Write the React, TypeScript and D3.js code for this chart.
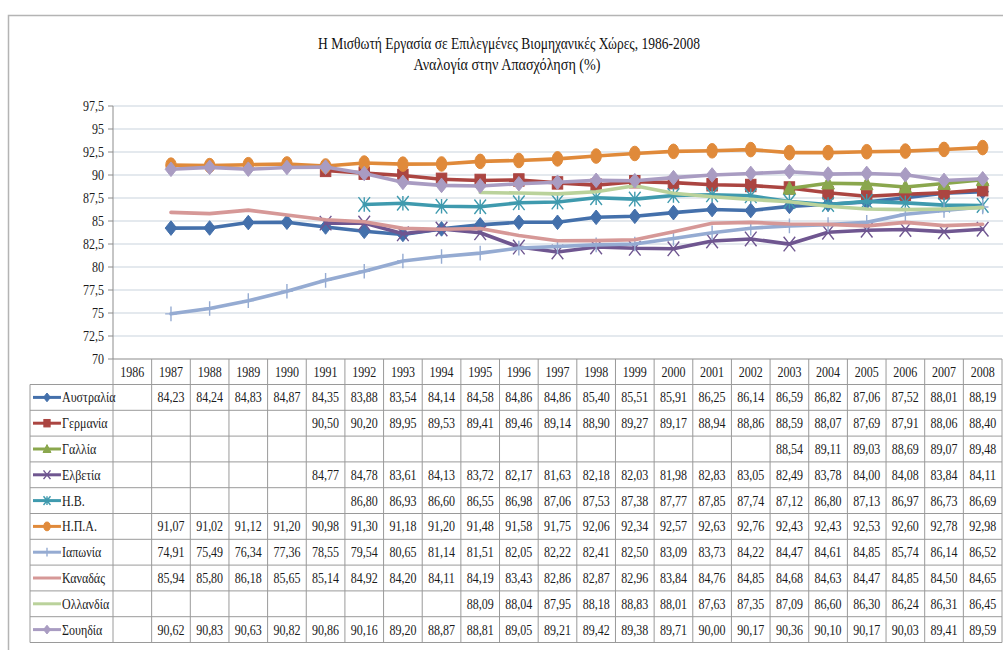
import React from "react";
import * as d3 from "d3";

const years = [1986,1987,1988,1989,1990,1991,1992,1993,1994,1995,1996,1997,1998,1999,2000,2001,2002,2003,2004,2005,2006,2007,2008];
const N = null;
const australia = [N,84.23,84.24,84.83,84.87,84.35,83.88,83.54,84.14,84.58,84.86,84.86,85.40,85.51,85.91,86.25,86.14,86.59,86.82,87.06,87.52,88.01,88.19];
const germany = [N,N,N,N,N,90.50,90.20,89.95,89.53,89.41,89.46,89.14,88.90,89.27,89.17,88.94,88.86,88.59,88.07,87.69,87.91,88.06,88.40];
const france = [N,N,N,N,N,N,N,N,N,N,N,N,N,N,N,N,N,88.54,89.11,89.03,88.69,89.07,89.48];
const switzerland = [N,N,N,N,N,84.77,84.78,83.61,84.13,83.72,82.17,81.63,82.18,82.03,81.98,82.83,83.05,82.49,83.78,84.00,84.08,83.84,84.11];
const uk = [N,N,N,N,N,N,86.80,86.93,86.60,86.55,86.98,87.06,87.53,87.38,87.77,87.85,87.74,87.12,86.80,87.13,86.97,86.73,86.69];
const usa = [N,91.07,91.02,91.12,91.20,90.98,91.30,91.18,91.20,91.48,91.58,91.75,92.06,92.34,92.57,92.63,92.76,92.43,92.43,92.53,92.60,92.78,92.98];
const japan = [N,74.91,75.49,76.34,77.36,78.55,79.54,80.65,81.14,81.51,82.05,82.22,82.41,82.50,83.09,83.73,84.22,84.47,84.61,84.85,85.74,86.14,86.52];
const canada = [N,85.94,85.80,86.18,85.65,85.14,84.92,84.20,84.11,84.19,83.43,82.86,82.87,82.96,83.84,84.76,84.85,84.68,84.63,84.47,84.85,84.50,84.65];
const netherlands = [N,N,N,N,N,N,N,N,N,88.09,88.04,87.95,88.18,88.83,88.01,87.63,87.35,87.09,86.60,86.30,86.24,86.31,86.45];
const sweden = [N,90.62,90.83,90.63,90.82,90.86,90.16,89.20,88.87,88.81,89.05,89.21,89.42,89.38,89.71,90.00,90.17,90.36,90.10,90.17,90.03,89.41,89.59];

const yTicks = [70,72.5,75,77.5,80,82.5,85,87.5,90,92.5,95,97.5];
const titleLine1 = "Η Μισθωτή Εργασία σε Επιλεγμένες Βιομηχανικές Χώρες, 1986-2008";
const titleLine2 = "Αναλογία στην Απασχόληση (%)";

type Series = { name: string; values: (number | null)[]; color: string; marker: string };
const series: Series[] = [
  { name: "Αυστραλία", values: australia, color: "#4470ab", marker: "diamond" },
  { name: "Γερμανία", values: germany, color: "#ab4541", marker: "square" },
  { name: "Γαλλία", values: france, color: "#8aa74d", marker: "triangle" },
  { name: "Ελβετία", values: switzerland, color: "#6f5690", marker: "x" },
  { name: "Η.Β.", values: uk, color: "#3f9aae", marker: "star" },
  { name: "Η.Π.Α.", values: usa, color: "#e08a3a", marker: "circle" },
  { name: "Ιαπωνία", values: japan, color: "#95abd2", marker: "plus" },
  { name: "Καναδάς", values: canada, color: "#d69897", marker: "none" },
  { name: "Ολλανδία", values: netherlands, color: "#bad29b", marker: "none" },
  { name: "Σουηδία", values: sweden, color: "#a99cc2", marker: "diamond" },
];

const FONT = "Liberation Serif, DejaVu Serif, serif";
const FX = 0.8;

function T(props: { x: number; y: number; anchor?: string; size?: number; children: React.ReactNode; fill?: string }) {
  const { x, y, anchor = "middle", size = 15, children, fill = "#1a1a1a" } = props;
  return (
    <text
      transform={`translate(${x},${y}) scale(${FX},1)`}
      textAnchor={anchor}
      style={{ fontFamily: FONT, fontSize: size }}
      dominantBaseline="central"
      fill={fill}
    >
      {children}
    </text>
  );
}

function Marker(props: { type: string; x: number; y: number; color: string; s?: number }) {
  const { type, x, y, color, s = 1 } = props;
  const w = 5.8 * s, h = 7.3 * s;
  const tr = `translate(${x},${y})`;
  switch (type) {
    case "diamond":
      return <path transform={tr} d={`M0,${-h}L${w},0L0,${h}L${-w},0Z`} fill={color} stroke={color} strokeWidth={1} />;
    case "square":
      return <rect x={x - w * 0.9} y={y - h * 0.85} width={1.8 * w} height={1.7 * h} fill={color} stroke={color} strokeWidth={1} />;
    case "triangle":
      return <path transform={tr} d={`M0,${-h}L${w + 0.5},${h * 0.8}L${-w - 0.5},${h * 0.8}Z`} fill={color} stroke={color} strokeWidth={1} />;
    case "x":
      return <path transform={tr} d={`M${-w},${-h}L${w},${h}M${w},${-h}L${-w},${h}`} fill="none" stroke={color} strokeWidth={1.4} />;
    case "star":
      return <path transform={tr} d={`M${-w},${-h}L${w},${h}M${w},${-h}L${-w},${h}M0,${-h}L0,${h}`} fill="none" stroke={color} strokeWidth={1.4} />;
    case "circle":
      return <ellipse cx={x} cy={y} rx={w * 0.9} ry={h} fill={color} stroke={color} strokeWidth={1} />;
    case "plus":
      return <path transform={tr} d={`M0,${-h}L0,${h}M${-w},0L${w},0`} fill="none" stroke={color} strokeWidth={1.4} />;
    default:
      return null;
  }
}

export default function App() {
  const left = 113, right = 1002;
  const yTop = 106, yBottom = 359;
  const tableLeft = 30;
  const rowH = 25.8;
  const tableTop = 384.5;
  const x = d3.scaleBand<number>().domain(years).range([left, right]);
  const bw = x.bandwidth();
  const cx = (yr: number) => (x(yr) as number) + bw / 2;
  const y = d3.scaleLinear().domain([70, 97.5]).range([yBottom, yTop]);
  const fmt = (v: number) => v.toFixed(2).replace(".", ",");
  const tickFmt = (v: number) => String(v).replace(".", ",");

  const line = d3
    .line<number | null>()
    .defined((d) => d !== null)
    .x((_, i) => cx(years[i]))
    .y((d) => y(d as number));

  const gridColor = "#c9d3dd";
  const borderColor = "#9a9a9a";

  return (
    <svg
      width={1003}
      height={650}
      style={{ position: "absolute", left: 0, top: 0, background: "#fff" }}
    >
      <rect x={0} y={0} width={1003} height={650} fill="#fff" />
      <rect x={8.5} y={15.5} width={1010} height={650} fill="none" stroke="#b4b4b4" strokeWidth={1.5} />

      <text x={509} y={43} textAnchor="middle" dominantBaseline="central" style={{ fontFamily: FONT, fontSize: 16 }} fill="#111"
        textLength={382} lengthAdjust="spacingAndGlyphs">{titleLine1}</text>
      <text x={507} y={64} textAnchor="middle" dominantBaseline="central" style={{ fontFamily: FONT, fontSize: 16 }} fill="#111"
        textLength={187} lengthAdjust="spacingAndGlyphs">{titleLine2}</text>

      {yTicks.map((t) => (
        <g key={t}>
          {t > 70 && <line x1={left} x2={right + 2} y1={y(t)} y2={y(t)} stroke={gridColor} strokeWidth={1.2} />}
          <line x1={left - 5} x2={left} y1={y(t)} y2={y(t)} stroke="#8c8c8c" strokeWidth={1} />
          <T x={104} y={y(t)} anchor="end">{tickFmt(t)}</T>
        </g>
      ))}
      <line x1={left} x2={left} y1={yTop} y2={yBottom} stroke="#8c8c8c" strokeWidth={1} />

      {series.map((s) => (
        <g key={s.name}>
          <path d={line(s.values) || ""} fill="none" stroke={s.color} strokeWidth={3.6} strokeLinejoin="round" strokeLinecap="round" />
          {s.values.map((v, i) =>
            v === null ? null : <Marker key={i} type={s.marker} x={cx(years[i])} y={y(v)} color={s.color} />
          )}
        </g>
      ))}

      <line x1={left} x2={right} y1={yBottom} y2={yBottom} stroke="#8c8c8c" strokeWidth={1.2} />
      {d3.range(series.length + 1).map((i) => (
        <line key={"h" + i} x1={tableLeft} x2={right} y1={tableTop + i * rowH} y2={tableTop + i * rowH} stroke={borderColor} strokeWidth={1} />
      ))}
      <line x1={tableLeft} x2={tableLeft} y1={tableTop} y2={tableTop + series.length * rowH} stroke={borderColor} strokeWidth={1} />
      {years.map((yr) => (
        <line key={"v" + yr} x1={x(yr) as number} x2={x(yr) as number} y1={yBottom} y2={tableTop + series.length * rowH} stroke={borderColor} strokeWidth={1} />
      ))}
      <line x1={right} x2={right} y1={yBottom} y2={tableTop + series.length * rowH} stroke={borderColor} strokeWidth={1} />

      {years.map((yr) => (
        <T key={"yr" + yr} x={cx(yr)} y={(yBottom + tableTop) / 2}>{String(yr)}</T>
      ))}

      {series.map((s, r) => {
        const rc = tableTop + r * rowH + rowH / 2;
        return (
          <g key={"row" + s.name}>
            <line x1={33} x2={61} y1={rc} y2={rc} stroke={s.color} strokeWidth={3} />
            <Marker type={s.marker} x={47} y={rc} color={s.color} s={0.6} />
            <T x={62} y={rc} anchor="start">{s.name}</T>
            {s.values.map((v, i) =>
              v === null ? null : (
                <T key={i} x={cx(years[i])} y={rc}>{fmt(v)}</T>
              )
            )}
          </g>
        );
      })}
    </svg>
  );
}
